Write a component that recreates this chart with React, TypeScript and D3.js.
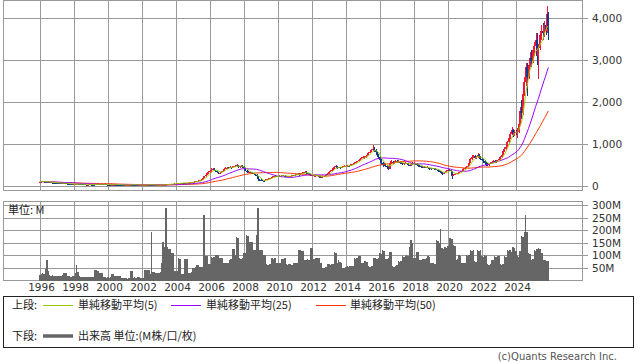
import * as d3 from "d3";
import { useEffect, useRef } from "react";

// monthly candles, first month is Dec 1995
const startYear = 1995;
const startMonth = 11;
const firstOpen = 105;

const closes = [
  110,
  118, 120, 115, 112, 110, 105, 100, 95, 92, 90, 88, 85, // 1996
  84, 80, 78, 75, 76, 74, 70, 66, 62, 60, 55, 50, // 1997
  52, 55, 60, 58, 55, 50, 48, 45, 42, 45, 48, 46, // 1998
  45, 44, 48, 52, 55, 53, 55, 52, 50, 48, 47, 45, // 1999
  44, 43, 45, 47, 46, 44, 43, 42, 40, 38, 37, 36, // 2000
  38, 40, 42, 45, 44, 42, 40, 38, 35, 36, 37, 36, // 2001
  36, 38, 42, 44, 42, 40, 38, 36, 34, 33, 34, 35, // 2002
  36, 38, 37, 40, 45, 50, 55, 60, 62, 65, 68, 70, // 2003
  72, 78, 85, 88, 85, 82, 85, 90, 92, 95, 100, 110, // 2004
  115, 120, 130, 140, 150, 160, 200, 240, 270, 310, 340, 360, // 2005
  400, 420, 390, 370, 340, 320, 330, 350, 380, 420, 440, 450, // 2006
  440, 460, 450, 470, 480, 490, 510, 470, 480, 500, 470, 440, // 2007
  380, 350, 330, 340, 330, 310, 290, 280, 250, 170, 160, 150, // 2008
  140, 130, 150, 170, 190, 200, 210, 230, 240, 250, 240, 250, // 2009
  260, 255, 270, 260, 240, 230, 240, 250, 260, 270, 265, 275, // 2010
  290, 300, 280, 300, 320, 340, 350, 320, 300, 290, 280, 270, // 2011
  250, 260, 270, 255, 235, 225, 230, 240, 250, 270, 300, 340, // 2012
  380, 400, 430, 470, 480, 440, 460, 450, 470, 480, 490, 500, // 2013
  500, 490, 510, 520, 540, 560, 580, 600, 630, 660, 690, 700, // 2014
  700, 720, 760, 800, 830, 860, 900, 880, 820, 760, 700, 640, // 2015
  560, 520, 540, 500, 470, 420, 560, 580, 560, 570, 600, 590, // 2016
  590, 570, 560, 540, 550, 560, 540, 520, 510, 530, 550, 560, // 2017
  540, 520, 500, 480, 470, 460, 470, 450, 460, 440, 430, 420, // 2018
  430, 420, 410, 400, 380, 360, 330, 300, 320, 350, 380, 400, // 2019
  390, 360, 260, 280, 300, 310, 320, 340, 360, 380, 420, 450, // 2020
  470, 500, 560, 650, 700, 720, 680, 700, 760, 700, 660, 640, // 2021
  600, 560, 540, 520, 540, 560, 580, 600, 580, 590, 620, 650, // 2022
  700, 760, 840, 900, 950, 1050, 1150, 1250, 1350, 1250, 1300, 1280, // 2023
  1300, 1500, 1800, 1750, 2200, 2500, 2850, 2600, 2900, 3050, 3000, 3250, // 2024
  3350, 3500, 3100, 3300, 3600, 3700, 3650, 3850, 3700, 4100, 3750, // 2025
];

const highs = [
  115,
  122, 125, 122, 118, 115, 112, 107, 102, 97, 95, 93, 90,
  90, 87, 83, 80, 80, 79, 76, 72, 68, 65, 62, 57,
  56, 60, 65, 63, 60, 57, 53, 50, 47, 49, 52, 51,
  49, 48, 52, 56, 60, 58, 59, 57, 54, 52, 51, 49,
  48, 47, 49, 51, 50, 48, 47, 46, 44, 42, 41, 40,
  41, 43, 46, 49, 48, 46, 44, 42, 40, 39, 40, 39,
  39, 42, 46, 48, 46, 44, 42, 40, 38, 36, 37, 38,
  39, 41, 41, 44, 50, 55, 60, 65, 67, 70, 73, 75,
  78, 84, 92, 95, 92, 88, 90, 95, 98, 100, 106, 116,
  125, 130, 140, 150, 160, 175, 210, 255, 290, 330, 360, 385,
  430, 445, 430, 400, 380, 350, 350, 370, 395, 435, 460, 470,
  470, 480, 475, 490, 500, 510, 528, 515, 500, 520, 505, 480,
  445, 395, 365, 355, 350, 340, 320, 300, 290, 255, 190, 175,
  160, 150, 160, 180, 200, 210, 220, 240, 255, 265, 255, 260,
  275, 270, 280, 280, 265, 245, 250, 260, 270, 285, 280, 285,
  300, 315, 310, 310, 335, 355, 370, 360, 325, 310, 300, 290,
  275, 270, 285, 275, 260, 240, 245, 250, 260, 280, 310, 350,
  390, 415, 445, 490, 520, 490, 475, 470, 490, 495, 505, 515,
  520, 510, 525, 535, 555, 575, 595, 615, 650, 680, 705, 720,
  730, 745, 780, 825, 860, 895, 1000, 930, 885, 800, 780, 720,
  650, 580, 570, 555, 510, 480, 600, 620, 600, 600, 620, 620,
  620, 600, 590, 570, 570, 580, 570, 550, 530, 550, 580, 590,
  570, 550, 530, 510, 500, 485, 490, 475, 480, 470, 450, 445,
  445, 440, 430, 420, 405, 385, 365, 340, 335, 360, 390, 410,
  415, 400, 370, 300, 320, 330, 340, 355, 375, 395, 440, 470,
  490, 520, 590, 680, 740, 760, 740, 730, 790, 780, 720, 690,
  660, 620, 580, 560, 560, 580, 600, 620, 620, 610, 640, 680,
  720, 790, 870, 940, 990, 1090, 1200, 1300, 1420, 1380, 1340, 1350,
  1400, 1600, 1900, 2050, 2250, 2600, 2950, 2950, 3000, 3200, 3250, 3350,
  3450, 3650, 3650, 3400, 3700, 3850, 3900, 3950, 4000, 4290, 4150,
];

const lows = [
  105,
  108, 114, 112, 108, 105, 100, 96, 90, 88, 86, 84, 80,
  80, 77, 74, 71, 72, 70, 66, 62, 58, 55, 50, 45,
  46, 50, 54, 54, 51, 47, 44, 40, 37, 40, 43, 42,
  42, 41, 43, 47, 50, 49, 51, 48, 46, 44, 43, 41,
  40, 39, 41, 43, 42, 40, 39, 38, 36, 34, 33, 32,
  34, 36, 38, 41, 40, 38, 36, 34, 30, 32, 33, 32,
  33, 34, 37, 40, 38, 36, 34, 32, 30, 29, 30, 32,
  32, 34, 33, 35, 39, 44, 49, 54, 57, 60, 63, 65,
  66, 70, 76, 82, 80, 77, 79, 83, 87, 89, 93, 98,
  105, 110, 118, 128, 136, 145, 158, 195, 235, 265, 300, 330,
  350, 390, 370, 350, 320, 300, 305, 325, 345, 375, 410, 425,
  420, 430, 425, 440, 460, 470, 480, 440, 450, 470, 450, 420,
  360, 330, 310, 320, 315, 295, 270, 255, 220, 130, 125, 130,
  125, 115, 120, 145, 165, 180, 190, 205, 220, 230, 225, 230,
  240, 240, 250, 250, 225, 215, 220, 235, 245, 255, 250, 260,
  270, 280, 240, 275, 295, 315, 330, 300, 280, 270, 260, 255,
  240, 245, 255, 240, 220, 205, 215, 225, 235, 245, 265, 295,
  335, 370, 395, 420, 430, 410, 430, 425, 440, 455, 465, 480,
  475, 470, 485, 500, 515, 535, 555, 575, 595, 610, 650, 670,
  665, 685, 715, 755, 790, 820, 850, 820, 760, 700, 660, 600,
  520, 470, 500, 470, 430, 400, 420, 540, 530, 540, 560, 560,
  560, 550, 530, 515, 520, 535, 515, 500, 490, 500, 520, 535,
  515, 495, 475, 455, 445, 440, 445, 430, 435, 415, 400, 390,
  405, 405, 395, 385, 360, 340, 310, 280, 290, 310, 340, 370,
  370, 340, 190, 240, 270, 290, 300, 315, 335, 355, 375, 410,
  430, 460, 490, 550, 630, 670, 650, 660, 690, 680, 630, 610,
  570, 520, 500, 490, 500, 530, 550, 570, 555, 560, 580, 610,
  640, 690, 740, 820, 880, 930, 1030, 1120, 1230, 1170, 1200, 1230,
  1150, 1280, 1450, 1600, 1700, 2150, 2400, 2150, 2550, 2850, 2850, 2950,
  3100, 3250, 2900, 2560, 3250, 3500, 3500, 3550, 3600, 3650, 3480,
];

// monthly volume, millions
const volumes = [
  24,
  26, 30, 28, 45, 81, 40, 22, 20, 21, 19, 20, 18, // 1996
  18, 17, 19, 22, 30, 31, 29, 19, 18, 16, 17, 19, // 1997
  30, 62, 35, 18, 15, 14, 16, 15, 14, 16, 15, 14, // 1998
  14, 16, 43, 42, 40, 32, 31, 30, 14, 13, 12, 13, // 1999
  12, 13, 26, 25, 19, 19, 18, 20, 19, 10, 9, 9, // 2000
  9, 8, 10, 39, 38, 12, 13, 12, 14, 13, 12, 11, // 2001
  12, 43, 42, 43, 41, 28, 195, 35, 34, 32, 31, 32, // 2002
  35, 71, 155, 135, 292, 135, 127, 125, 112, 110, 39, 40, // 2003
  38, 89, 88, 26, 27, 85, 86, 85, 32, 31, 33, 52, // 2004
  52, 53, 62, 61, 55, 56, 55, 262, 100, 98, 65, 66, // 2005
  93, 92, 94, 103, 102, 104, 90, 89, 91, 71, 70, 72, // 2006
  71, 84, 85, 127, 126, 103, 174, 172, 90, 88, 91, 110, // 2007
  110, 181, 180, 155, 153, 156, 123, 122, 181, 292, 123, 124, // 2008
  123, 103, 102, 65, 64, 66, 67, 89, 88, 90, 71, 72, // 2009
  70, 71, 88, 87, 89, 65, 64, 66, 65, 64, 71, 70, // 2010
  71, 72, 123, 122, 120, 118, 84, 83, 85, 84, 132, 130, // 2011
  88, 86, 90, 92, 90, 71, 72, 52, 50, 54, 65, 66, // 2012
  64, 66, 68, 116, 112, 72, 81, 76, 70, 52, 50, 55, // 2013
  58, 56, 60, 57, 59, 90, 88, 92, 100, 98, 71, 70, // 2014
  78, 80, 76, 58, 56, 60, 58, 90, 92, 88, 90, 110, // 2015
  108, 123, 120, 88, 86, 90, 116, 114, 58, 56, 60, 62, // 2016
  78, 76, 80, 97, 95, 98, 103, 100, 135, 161, 150, 90, // 2017
  92, 116, 114, 84, 82, 87, 86, 88, 90, 97, 95, 72, // 2018
  70, 72, 68, 161, 158, 150, 207, 130, 128, 135, 132, 138, // 2019
  172, 170, 168, 142, 140, 84, 86, 103, 100, 71, 70, 72, // 2020
  103, 100, 104, 123, 120, 122, 78, 76, 123, 120, 122, 97, // 2021
  96, 103, 100, 65, 62, 66, 84, 82, 97, 95, 98, 97, // 2022
  65, 63, 66, 97, 95, 123, 120, 122, 116, 135, 132, 120, // 2023
  97, 95, 120, 177, 175, 194, 262, 194, 110, 108, 84, 86, // 2024
  123, 120, 125, 129, 128, 110, 112, 84, 82, 78, 80, // 2025
];

const priceTicks = [0, 1000, 2000, 3000, 4000];
const volumeTicks = [50, 100, 150, 200, 250, 300];
const yearTicks = d3.range(1996, 2025, 2);
const maPeriods = [5, 25, 50];
const maColors = ["#99cc00", "#9900ff", "#ff3300"];

const W = 638;
const H = 362;
const upColor = "#f5143c";
const downColor = "#0b3a8f";
const gridColor = "#999";
const numFont = "DejaVu Sans";
const jpFont = "'Noto Sans CJK JP', sans-serif";

export default function App() {
  const ref = useRef<SVGSVGElement>(null);

  useEffect(() => {
    const svg = d3.select(ref.current);
    svg.selectAll("*").remove();

    const left = 3.5, right = 582.5;
    const pTop = 0.5, pBottom = 190.5;
    const vTop = 201.5, vBottom = 280.5;

    const x = d3.scaleLinear().domain([1996, 2024]).range([40.5, 516.5]);
    const yP = d3.scaleLinear().domain([0, 4000]).range([186.5, 18.5]);
    const yV = d3.scaleLinear().domain([0, 300]).range([280.5, 205.5]);
    const monthT = (i: number) => startYear + (startMonth + i + 0.5) / 12;
    const mw = x(1996 + 1 / 12) - x(1996);

    const rows = closes.map((c, i) => {
      const open = i === 0 ? firstOpen : closes[i - 1];
      return {
        t: monthT(i),
        open,
        close: c,
        high: Math.max(highs[i], open, c),
        low: Math.min(lows[i], open, c),
        vol: volumes[i],
      };
    });

    svg.append("rect").attr("width", W).attr("height", H).attr("fill", "#fff");

    // grids
    const grid = svg.append("g").attr("stroke", gridColor).attr("stroke-width", 1)
      .attr("shape-rendering", "crispEdges");
    yearTicks.forEach((yr) => {
      grid.append("line").attr("x1", x(yr)).attr("x2", x(yr)).attr("y1", pTop).attr("y2", pBottom);
      grid.append("line").attr("x1", x(yr)).attr("x2", x(yr)).attr("y1", vTop).attr("y2", vBottom);
    });
    priceTicks.forEach((v) => {
      grid.append("line").attr("x1", left).attr("x2", right + 5).attr("y1", yP(v)).attr("y2", yP(v));
    });
    volumeTicks.forEach((v) => {
      grid.append("line").attr("x1", left).attr("x2", right + 5).attr("y1", yV(v)).attr("y2", yV(v));
    });
    grid.append("rect").attr("x", left).attr("y", pTop).attr("width", right - left)
      .attr("height", pBottom - pTop).attr("fill", "none");
    grid.append("rect").attr("x", left).attr("y", vTop).attr("width", right - left)
      .attr("height", vBottom - vTop).attr("fill", "none");

    // volume bars
    svg.append("g").attr("fill", "#666").attr("shape-rendering", "crispEdges")
      .selectAll("rect").data(rows).join("rect")
      .attr("x", (d) => x(d.t) - mw / 2)
      .attr("width", mw)
      .attr("y", (d) => yV(d.vol))
      .attr("height", (d) => yV(0) - yV(d.vol));

    // candles
    const candles = svg.append("g").selectAll("g").data(rows).join("g");
    candles.append("line")
      .attr("x1", (d) => Math.round(x(d.t)) + 0.5)
      .attr("x2", (d) => Math.round(x(d.t)) + 0.5)
      .attr("y1", (d) => yP(d.high))
      .attr("y2", (d) => yP(d.low))
      .attr("stroke", (d) => (d.close >= d.open ? upColor : downColor))
      .attr("shape-rendering", "crispEdges");
    candles.append("rect")
      .attr("x", (d) => x(d.t) - 1)
      .attr("width", 2)
      .attr("y", (d) => yP(Math.max(d.open, d.close)))
      .attr("height", (d) => Math.max(1, Math.abs(yP(d.open) - yP(d.close))))
      .attr("fill", (d) => (d.close >= d.open ? upColor : downColor))
      .attr("shape-rendering", "crispEdges");

    // moving averages
    const line = d3.line<number>().x((_, i) => x(monthT(i))).y((d) => yP(d));
    maPeriods.slice().reverse().forEach((n, k) => {
      const ma = closes.map((_, i) => d3.mean(closes.slice(Math.max(0, i - n + 1), i + 1)) as number);
      svg.append("path").datum(ma).attr("d", line).attr("fill", "none")
        .attr("stroke", maColors[maPeriods.length - 1 - k]).attr("stroke-width", 1);
    });

    // axis labels
    const txt = svg.append("g").attr("font-family", numFont).attr("font-size", 10.5).attr("fill", "#333");
    priceTicks.forEach((v) => {
      txt.append("text").attr("x", 592).attr("y", yP(v)).attr("dy", "0.35em").text(d3.format(",")(v));
    });
    volumeTicks.forEach((v) => {
      txt.append("text").attr("x", 592).attr("y", yV(v)).attr("dy", "0.35em").text(`${v}M`);
    });
    yearTicks.forEach((yr) => {
      txt.append("text").attr("x", x(yr) + 1).attr("y", 291).attr("text-anchor", "middle").text(yr);
    });

    svg.append("text").attr("x", 8).attr("y", 214).attr("font-family", jpFont)
      .attr("font-size", 11).attr("fill", "#222").text("単位: M");

    // legend
    const lg = svg.append("g").attr("font-family", jpFont).attr("font-size", 11).attr("fill", "#222");
    lg.append("rect").attr("x", 3.5).attr("y", 296.5).attr("width", 630).attr("height", 51)
      .attr("fill", "none").attr("stroke", "#222").attr("shape-rendering", "crispEdges");
    const row1 = 305, row2 = 336;
    lg.append("text").attr("x", 12).attr("y", row1).attr("dy", "0.35em").text("上段:");
    const labelsX = [[43, 78], [171, 206], [316, 350]];
    maPeriods.forEach((n, k) => {
      lg.append("line").attr("x1", labelsX[k][0]).attr("x2", labelsX[k][0] + 30)
        .attr("y1", row1 + 0.5).attr("y2", row1 + 0.5).attr("stroke", maColors[k]);
      lg.append("text").attr("x", labelsX[k][1]).attr("y", row1).attr("dy", "0.35em")
        .text(`単純移動平均(${n})`);
    });
    lg.append("text").attr("x", 12).attr("y", row2).attr("dy", "0.35em").text("下段:");
    lg.append("line").attr("x1", 43).attr("x2", 73).attr("y1", row2).attr("y2", row2)
      .attr("stroke", "#666").attr("stroke-width", 3.5);
    lg.append("text").attr("x", 78).attr("y", row2).attr("dy", "0.35em").text("出来高 単位:(M株/口/枚)");

    svg.append("text").attr("x", 617).attr("y", 360).attr("text-anchor", "end")
      .attr("font-family", numFont).attr("font-size", 10).attr("fill", "#555")
      .text("(c)Quants Research Inc.");
  }, []);

  return (
    <svg ref={ref} width={W} height={H} style={{ position: "absolute", left: 0, top: 0 }} />
  );
}
